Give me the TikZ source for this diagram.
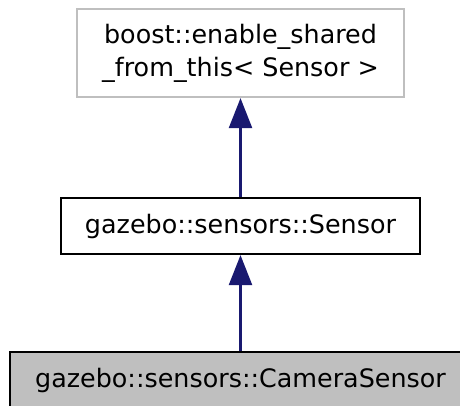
\documentclass[tikz,border=0pt]{standalone}
\usepackage{fontspec}
\setmainfont{DejaVu Sans}
\usetikzlibrary{arrows.meta}
\definecolor{navy}{RGB}{25, 25, 112}
\definecolor{lightgray}{RGB}{191, 191, 191}

\begin{document}
\begin{tikzpicture}[x=1pt, y=1pt,
    classbox/.style={draw, line width=2.2pt, inner sep=0pt, align=center,
        font=\fontsize{25.4}{33}\selectfont},
    inherit/.style={navy, line width=2.4pt, -{Triangle[width=23pt, length=30pt]}}]
                \useasboundingbox (0, 0) rectangle (460, 405);

                % Nodes
                \node[classbox, draw=lightgray, minimum width=327, minimum height=88] (base) at (240.5, 352) {boost::enable\_shared\\\_from\_this< Sensor >};
                \node[classbox, minimum width=359, minimum height=56] (sensor) at (240.5, 179) {gazebo::sensors::Sensor};
                \node[classbox, fill=lightgray, minimum width=461, minimum height=56] (camera) at (240.5, 25) {gazebo::sensors::CameraSensor};

                % Edges
                \draw[inherit] (sensor) -- (base);
                \draw[inherit] (camera) -- (sensor);
            \end{tikzpicture}
\end{document}
